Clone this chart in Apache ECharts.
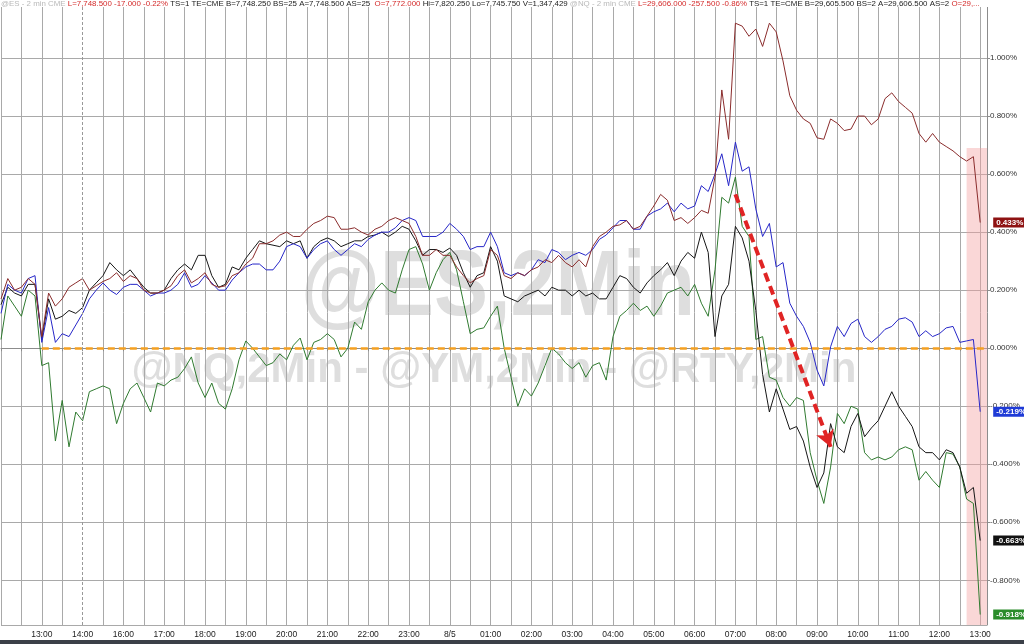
<!DOCTYPE html>
<html><head><meta charset="utf-8">
<script src="https://cdn.jsdelivr.net/npm/echarts@6/dist/echarts.min.js"></script>
<style>html,body{margin:0;padding:0;background:#fff}#c{width:1024px;height:644px}</style>
</head><body><div id="c"></div>
<script>
// Trading sessions (10-minute bars); 15:00-16:00 is the break
const sessions = [['12:00','14:50'],['16:00','13:10']];

// % change series, one value per 10-minute category (12:00 ... 13:00 next day)
const nqValues = [0.17,0.24,0.20,0.21,0.24,0.22,0.04,0.19,0.145,0.17,0.21,0.225,0.24,0.20,0.215,0.23,0.24,0.26,
0.23,0.25,0.24,0.20,0.19,0.19,0.20,0.215,0.25,0.27,0.225,0.24,0.26,0.22,0.21,0.215,0.25,0.26,0.29,0.31,0.36,0.36,0.37,0.39,0.40,0.385,0.385,0.41,0.43,0.44,
0.455,0.45,0.41,0.41,0.415,0.40,0.39,0.41,0.42,0.44,0.45,0.44,0.43,0.385,0.32,0.32,0.34,0.32,
0.32,0.28,0.25,0.225,0.24,0.25,0.34,0.32,0.25,0.24,0.26,0.25,0.27,0.28,0.305,0.295,0.32,0.295,0.28,0.305,0.28,0.35,0.385,0.40,
0.42,0.425,0.44,0.41,0.42,0.455,0.49,0.53,0.51,0.44,0.45,0.43,0.45,0.475,0.465,0.59,0.89,0.72,
1.12,1.11,1.075,1.10,1.04,1.12,1.09,0.99,0.87,0.82,0.79,0.775,0.725,0.72,0.79,0.775,0.75,0.755,
0.80,0.80,0.77,0.79,0.86,0.88,0.85,0.83,0.81,0.74,0.71,0.74,0.71,0.695,0.68,0.66,0.645,0.66,0.433];

const esValues = [0.12,0.22,0.20,0.19,0.24,0.25,0.02,0.14,0.02,0.05,0.04,0.08,0.12,0.17,0.20,0.225,0.20,0.185,
0.21,0.22,0.22,0.20,0.18,0.19,0.19,0.20,0.22,0.26,0.21,0.22,0.25,0.225,0.20,0.20,0.235,0.26,0.28,0.29,0.29,0.27,0.27,0.30,0.35,0.36,0.35,0.31,0.34,0.36,
0.37,0.34,0.32,0.34,0.36,0.35,0.375,0.39,0.40,0.40,0.415,0.44,0.45,0.44,0.385,0.385,0.385,0.40,
0.43,0.41,0.385,0.34,0.35,0.35,0.40,0.35,0.26,0.25,0.26,0.25,0.27,0.305,0.295,0.34,0.33,0.305,0.32,0.33,0.32,0.34,0.375,0.39,
0.415,0.44,0.44,0.41,0.41,0.455,0.47,0.48,0.50,0.47,0.50,0.48,0.49,0.56,0.54,0.60,0.67,0.56,
0.71,0.61,0.625,0.48,0.385,0.43,0.28,0.295,0.155,0.11,0.075,0.02,-0.075,-0.13,0.005,0.075,0.04,0.085,
0.10,0.04,0.02,0.04,0.065,0.075,0.10,0.105,0.09,0.04,0.06,0.04,0.05,0.07,0.075,0.02,0.025,0.03,-0.219];

const ymValues = [0.15,0.21,0.19,0.18,0.22,0.22,0.03,0.17,0.10,0.11,0.13,0.12,0.14,0.20,0.225,0.25,0.295,0.27,
0.25,0.27,0.24,0.21,0.19,0.19,0.20,0.24,0.27,0.29,0.27,0.32,0.32,0.25,0.21,0.22,0.28,0.27,0.31,0.34,0.37,0.36,0.355,0.35,0.37,0.36,0.37,0.31,0.35,0.37,
0.38,0.37,0.35,0.36,0.37,0.37,0.385,0.39,0.40,0.385,0.40,0.42,0.41,0.37,0.32,0.34,0.34,0.33,
0.345,0.32,0.26,0.21,0.25,0.26,0.35,0.30,0.18,0.17,0.16,0.18,0.19,0.20,0.18,0.21,0.20,0.20,0.18,0.20,0.18,0.19,0.17,0.17,
0.21,0.25,0.24,0.21,0.19,0.225,0.25,0.27,0.295,0.25,0.30,0.33,0.31,0.40,0.33,0.04,0.18,0.22,
0.42,0.38,0.30,0.13,-0.09,-0.22,-0.14,-0.21,-0.28,-0.27,-0.32,-0.41,-0.48,-0.43,-0.26,-0.34,-0.36,-0.27,
-0.225,-0.305,-0.275,-0.25,-0.20,-0.15,-0.20,-0.235,-0.27,-0.34,-0.36,-0.36,-0.385,-0.35,-0.36,-0.41,-0.50,-0.48,-0.663];

const rtyValues = [0.03,0.18,0.145,0.11,0.20,0.18,-0.06,-0.05,-0.32,-0.18,-0.34,-0.22,-0.25,-0.15,-0.14,-0.13,-0.14,-0.26,
-0.19,-0.14,-0.12,-0.17,-0.22,-0.12,-0.13,-0.11,-0.10,-0.07,-0.03,-0.12,-0.17,-0.12,-0.19,-0.21,-0.14,-0.04,0.025,0.0,-0.03,-0.06,-0.05,-0.02,-0.04,0.01,0.035,-0.04,0.02,0.03,
0.05,0.03,-0.03,0.0,0.09,0.065,0.16,0.20,0.225,0.20,0.19,0.27,0.34,0.35,0.29,0.20,0.26,0.305,
0.33,0.27,0.16,0.05,0.065,0.07,0.11,0.145,0.0,-0.10,-0.20,-0.14,-0.165,-0.12,-0.06,0.0,-0.02,-0.05,-0.07,-0.05,-0.10,-0.06,-0.05,-0.11,
0.04,0.11,0.13,0.155,0.13,0.145,0.11,0.145,0.19,0.20,0.21,0.18,0.22,0.155,0.11,0.27,0.52,0.50,
0.59,0.42,0.385,0.03,0.04,-0.10,-0.11,-0.17,-0.20,-0.17,-0.18,-0.36,-0.455,-0.535,-0.41,-0.225,-0.26,-0.20,
-0.21,-0.36,-0.385,-0.375,-0.385,-0.375,-0.35,-0.34,-0.35,-0.455,-0.425,-0.455,-0.48,-0.36,-0.365,-0.41,-0.52,-0.535,-0.918];

const seriesNames = ['@RTY','@YM','@ES','@NQ'];
const yMin = -0.954, yMax = 1.2;

// Header quote strip
const headerParts = [
  ['g','@ES - 2 min CME '],['r','L=7,748.500 -17.000 -0.22% '],
  ['k','TS=1 TE=CME B=7,748.250 BS=25 A=7,748.500 AS=25  '],['r','O=7,772.000 '],
  ['k','Hi=7,820.250 Lo=7,745.750 V=1,347,429 '],['g','@NQ - 2 min CME '],
  ['r','L=29,606.000 -257.500 -0.86% '],['k','TS=1 TE=CME B=29,605.500 BS=2 A=29,606.500 AS=2 '],['r','O=29,...']
];

function toMin(s){const [h,m]=s.split(':').map(Number);return h*60+m;}
function fmt(t){const h=Math.floor(t/60),m=t%60;return (h<10?'0':'')+h+':'+(m<10?'0':'')+m;}
const categories = [];
sessions.forEach(([a,b]) => {
  let t = toMin(a); const end = toMin(b);
  while (true) { categories.push(fmt(t)); if (t === end) break; t = (t + 10) % 1440; }
});
const firstIdx = v => categories.indexOf(v);
const lastIdx = v => categories.lastIndexOf(v);

const colors = {'@RTY':'#2f7a2f','@YM':'#161616','@ES':'#2626c8','@NQ':'#8a2c2c'};
const tagColors = {'@RTY':'#2a8c2a','@YM':'#111111','@ES':'#1f3bd6','@NQ':'#8e1212'};
const dataMap = {'@RTY':rtyValues,'@YM':ymValues,'@ES':esValues,'@NQ':nqValues};

const series = seriesNames.map(name => ({
  type:'line', name, data:dataMap[name], symbol:'none', showSymbol:false, animation:false,
  lineStyle:{color:colors[name], width:1}, itemStyle:{color:colors[name]},
  emphasis:{disabled:true},
  endLabel:{show:true, distance:13, formatter:p => (+p.value).toFixed(3)+'%',
    backgroundColor:tagColors[name], color:'#fff', fontSize:8, fontWeight:'bold',
    fontFamily:'Liberation Sans', padding:[1,3,1,3]}
}));

// Markers: pink highlight (under lines) and annotations
series[0].markArea = {silent:true, itemStyle:{color:'rgba(242,160,160,0.42)'},
  data:[[{coord:[lastIdx('12:40'),0.69]},{coord:[lastIdx('13:10'),yMin]}]]};
series[3].markLine = {silent:true, symbol:'none', label:{show:false}, animation:false,
  data:[
    [{coord:[firstIdx('13:00'),0], lineStyle:{color:'#f5a020', width:2.5, type:[7,4]}},{coord:[lastIdx('13:10'),0]}],
    {xAxis:firstIdx('14:00'), lineStyle:{color:'#999', width:1, type:[3,2]}},
    [{coord:[firstIdx('07:00'),0.53], symbol:'none', lineStyle:{color:'#e02424', width:4, type:[9,5]}},
     {coord:[firstIdx('09:20'),-0.34], symbol:'arrow', symbolSize:[14,16]}]
  ]};

const isHalfHour = (i, v) => { const m = v.slice(3); return (m === '00' || m === '30') && i !== firstIdx('14:00'); };

const option = {
  animation:false,
  grid:{left:1, right:37, top:0, bottom:19, containLabel:false, outerBoundsMode:'none'},
  xAxis:{type:'category', data:categories, boundaryGap:false,
    axisLine:{lineStyle:{color:'#8c8c8c'}},
    axisTick:{show:true, length:3, interval:(i,v)=>v.slice(3)==='00'||v.slice(3)==='30', lineStyle:{color:'#8c8c8c'}},
    axisLabel:{interval:(i,v)=>v.slice(3)==='00' && i > 0 && i < categories.length-1, formatter:v => v==='00:00' ? '8/5' : v,
      fontSize:8.5, color:'#222', margin:5, fontFamily:'Liberation Sans'},
    splitLine:{show:true, interval:isHalfHour, lineStyle:{color:'#a9a9a9', width:1}}
  },
  yAxis:{type:'value', position:'right', min:yMin, max:yMax, splitNumber:10,
    axisLine:{show:true, lineStyle:{color:'#8c8c8c'}},
    axisTick:{show:true, length:3, lineStyle:{color:'#8c8c8c'}},
    axisLabel:{showMinLabel:false, showMaxLabel:false, formatter:v => v.toFixed(3)+'%',
      fontSize:8, color:'#333', margin:3, fontFamily:'Liberation Sans'},
    splitLine:{show:true, lineStyle:{color:'#a9a9a9', width:1}}
  },
  graphic:[
    {type:'text', x:498, y:290, z:-10, scaleX:0.88, silent:true,
      style:{text:'@ES,2Min', fill:'#dedede', font:'bold 92px "Liberation Sans"', textAlign:'center', textVerticalAlign:'middle'}},
    {type:'text', x:494, y:370, z:-10, silent:true,
      style:{text:'@NQ,2Min - @YM,2Min - @RTY,2Min', fill:'#dedede', font:'bold 42px "Liberation Sans"', textAlign:'center', textVerticalAlign:'middle'}},
    {type:'rect', shape:{x:0,y:0,width:988,height:7}, z:50, silent:true, style:{fill:'#fff'}},
    {type:'text', x:1, y:0, z:51, silent:true,
      style:{text: headerParts.map(p => '{'+p[0]+'|'+p[1]+'}').join(''),
        font:'7.9px "Liberation Sans"',
        rich:{g:{fill:'#b9b9b9', fontSize:7.9}, r:{fill:'#d42a2a', fontSize:7.9}, k:{fill:'#222', fontSize:7.9}}}},
    {type:'rect', shape:{x:0,y:640,width:1024,height:4}, silent:true, style:{fill:'#3b4048'}}
  ],
  series
};
const chart = echarts.init(document.getElementById('c'));
chart.setOption(option);
</script></body></html>
